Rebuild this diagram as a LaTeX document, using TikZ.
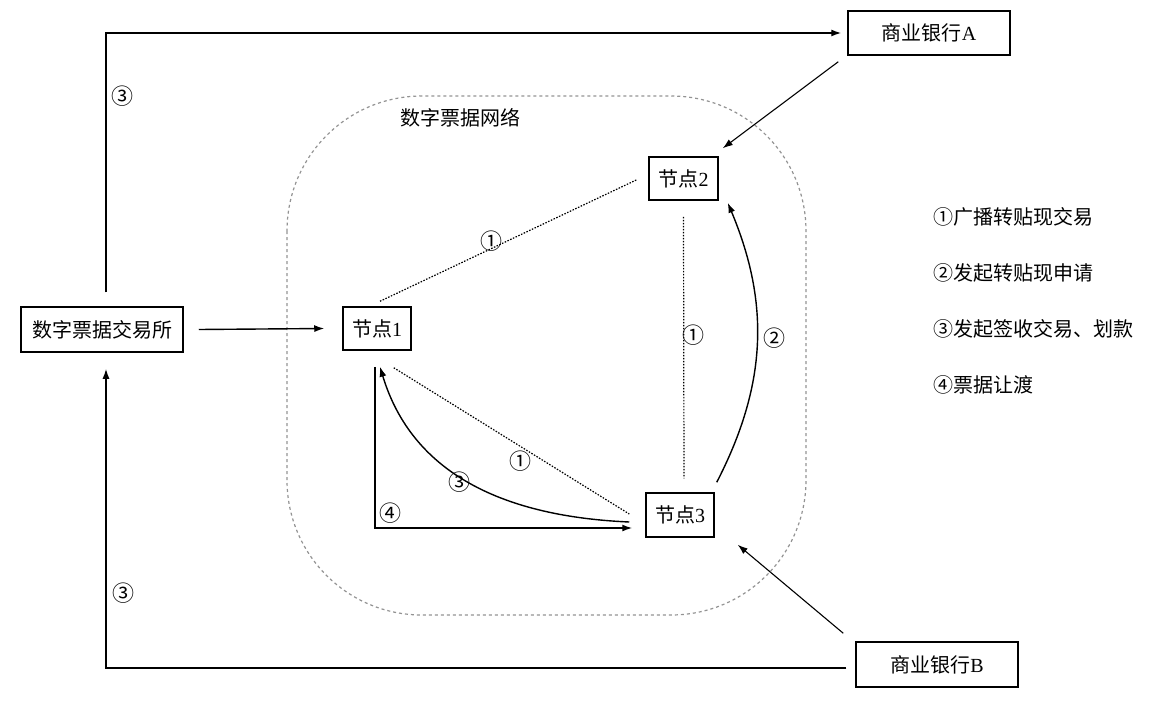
\documentclass[tikz,border=0pt]{standalone}
\usepackage{fontspec}
\setmainfont{Liberation Serif}
\newfontfamily\cjk{Noto Sans CJK SC}
\usetikzlibrary{arrows.meta,calc}
\begin{document}
\begin{tikzpicture}[x=1pt,y=-1pt,
  box/.style={draw,line width=1.5pt,inner sep=0pt,font=\fontsize{20}{24}\selectfont},
  arr/.style={line width=1.4pt,-{Latex[length=10pt,width=7pt]}},
  thinarr/.style={line width=1.1pt,-{Latex[length=10pt,width=7pt]}},
  dotline/.style={line width=1.2pt,dash pattern=on 1.5pt off 1.5pt},
  lbl/.style={font=\fontsize{20}{24}\selectfont\cjk,inner sep=0pt},
  num/.style={font=\fontsize{22}{26}\selectfont\cjk,inner sep=0pt},
  legend/.style={font=\fontsize{20}{24}\selectfont\cjk,inner sep=0pt,anchor=west}]
\useasboundingbox (0,0) rectangle (1157,717);
% network region
\draw[gray!85,line width=1.2pt,dash pattern=on 3pt off 3pt,rounded corners=135pt] (287,96) rectangle (806,615);
\node[lbl] (netlabel) at (460,118) {数字票据网络};
% boxes
\node[box,minimum width=162pt,minimum height=45pt] (ex) at (102,329.5) {{\cjk 数字票据交易所}};
\node[box,minimum width=68pt,minimum height=43pt] (n1) at (377,328.5) {{\cjk 节点}1};
\node[box,minimum width=69pt,minimum height=43pt] (n2) at (683.5,178.5) {{\cjk 节点}2};
\node[box,minimum width=68pt,minimum height=44pt] (n3) at (680,515) {{\cjk 节点}3};
\node[box,minimum width=162pt,minimum height=44pt] (bA) at (929,33) {{\cjk 商业银行}A};
\node[box,minimum width=162pt,minimum height=45pt] (bB) at (937,664.5) {{\cjk 商业银行}B};
% outer connectors
\draw[arr] ([shift={(4pt,14pt)}]ex.north) |- ([xshift=-6pt]bA.west);
\node[num] (l3a) at (122,96) {③};
\draw[arr] ([xshift=15pt]ex.east) -- ([xshift=-18pt]n1.west);
\draw[arr] ([shift={(-9pt,-3.5pt)}]bB.west) -| ([shift={(4pt,-16pt)}]ex.south);
\node[num] (l3b) at (123,593) {③};
\draw[thinarr] ([shift={(-9pt,-6pt)}]bA.south west) -- ([shift={(4pt,8pt)}]n2.north east);
\draw[thinarr] ([shift={(-12pt,8pt)}]bB.north west) -- ([shift={(23pt,-7pt)}]n3.south east);
% inner connectors
\draw[dotline] ([shift={(3pt,5pt)}]n1.north) -- ([shift={(-12pt,-1.5pt)}]n2.west);
\node[num] (l1a) at (491,241) {①};
\draw[dotline] ([yshift=-16pt]n2.south) -- ([shift={(4pt,14pt)}]n3.north);
\node[num] (l1b) at (693,335) {①};
\draw[arr] ([shift={(2pt,10pt)}]n3.north east) to[bend right=25] ([shift={(9pt,-2pt)}]n2.south east);
\node[num] (l2) at (774,338) {②};
\draw[dotline] ([shift={(-18pt,-17pt)}]n1.south east) -- ([shift={(-16pt,1pt)}]n3.west);
\node[num] (l1c) at (520,461) {①};
\draw[arr] ([shift={(-16pt,-7pt)}]n3.west) .. controls (470,515) and (405,450) .. ([shift={(3pt,-16pt)}]n1.south);
\node[num] (l3c) at (459,482) {③};
\draw[arr] ([shift={(-2pt,-16pt)}]n1.south) |- ([shift={(-13pt,-13pt)}]n3.west);
\node[num] (l4) at (390,513) {④};
% legend
\node[legend] (g1) at (933,217) {①广播转贴现交易};
\node[legend] (g2) at (933,273) {②发起转贴现申请};
\node[legend] (g3) at (933,329) {③发起签收交易、划款};
\node[legend] (g4) at (933,385) {④票据让渡};
\end{tikzpicture}
\end{document}
